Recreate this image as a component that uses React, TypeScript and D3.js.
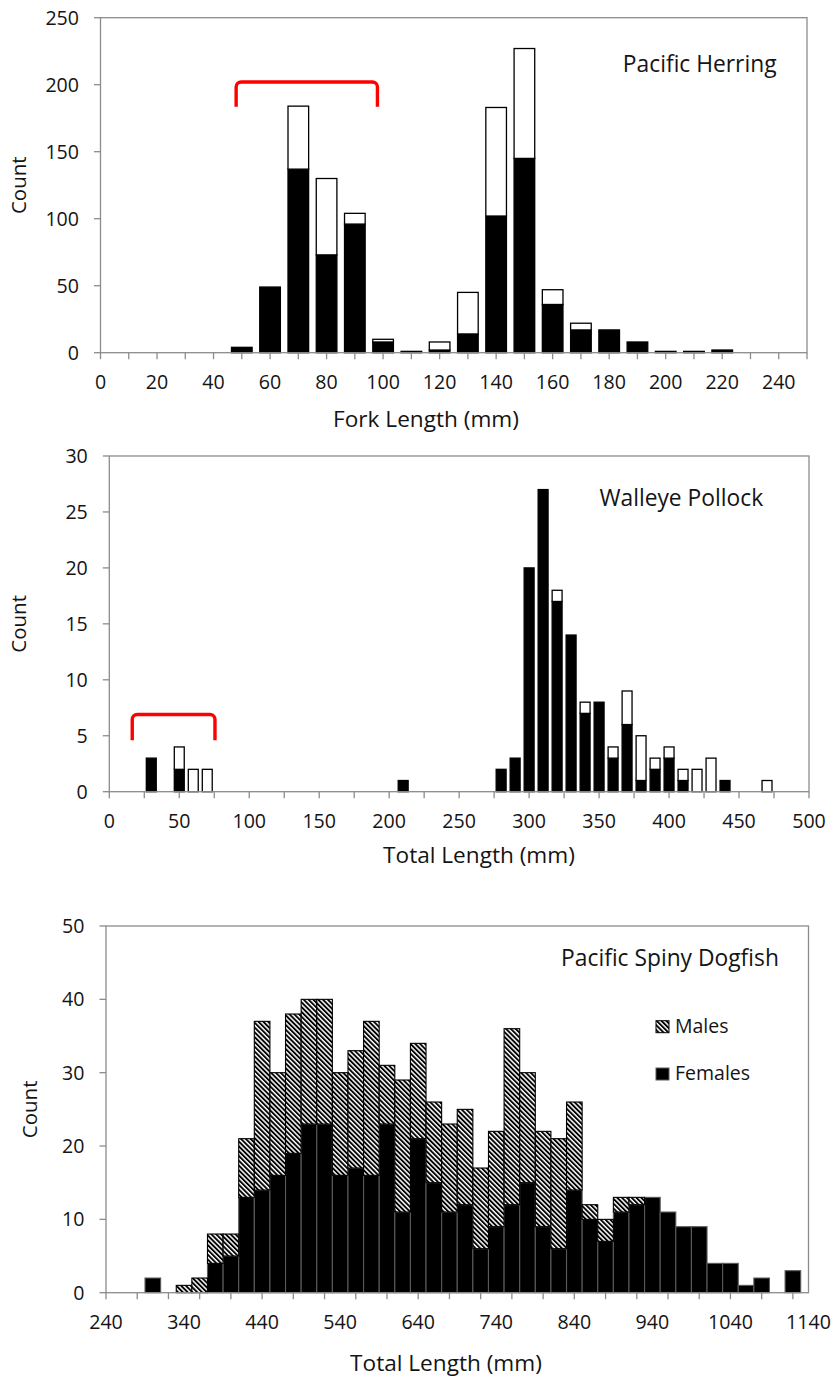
import * as React from 'react'
import * as d3 from 'd3'

// Pacific Herring – fork length bins (mm)
const herringBins = [50, 60, 70, 80, 90, 100, 110, 120, 130, 140, 150, 160, 170, 180, 190, 200, 210, 220]
const herringSolid = [4, 49, 137, 73, 96, 8, 1, 2, 14, 102, 145, 36, 17, 17, 8, 1, 1, 2]
const herringOpen = [0, 0, 47, 57, 8, 2, 0, 6, 31, 81, 82, 11, 5, 0, 0, 0, 0, 0]
const herringXTicks = [0, 10, 20, 30, 40, 50, 60, 70, 80, 90, 100, 110, 120, 130, 140, 150, 160, 170, 180, 190, 200, 210, 220, 230, 240, 250]
const herringXLabels = [0, 20, 40, 60, 80, 100, 120, 140, 160, 180, 200, 220, 240]
const herringYTicks = [0, 50, 100, 150, 200, 250]

// Walleye Pollock – total length bins (mm)
const pollockBins = [30, 50, 60, 70, 210, 280, 290, 300, 310, 320, 330, 340, 350, 360, 370, 380, 390, 400, 410, 420, 430, 440, 470]
const pollockSolid = [3, 2, 0, 0, 1, 2, 3, 20, 27, 17, 14, 7, 8, 3, 6, 1, 2, 3, 1, 0, 0, 1, 0]
const pollockOpen = [0, 2, 2, 2, 0, 0, 0, 0, 0, 1, 0, 1, 0, 1, 3, 4, 1, 1, 1, 2, 3, 0, 1]
const pollockXTicks = [0, 25, 50, 75, 100, 125, 150, 175, 200, 225, 250, 275, 300, 325, 350, 375, 400, 425, 450, 475, 500]
const pollockXLabels = [0, 50, 100, 150, 200, 250, 300, 350, 400, 450, 500]
const pollockYTicks = [0, 5, 10, 15, 20, 25, 30]

// Pacific Spiny Dogfish – total length bins (mm)
const dogfishBins = [300, 320, 340, 360, 380, 400, 420, 440, 460, 480, 500, 520, 540, 560, 580, 600, 620, 640, 660, 680, 700, 720, 740, 760, 780, 800, 820, 840, 860, 880, 900, 920, 940, 960, 980, 1000, 1020, 1040, 1060, 1080, 1100, 1120]
const dogfishFemales = [2, 0, 0, 0, 4, 5, 13, 14, 16, 19, 23, 23, 16, 17, 16, 23, 11, 21, 15, 11, 12, 6, 9, 12, 15, 9, 6, 14, 10, 7, 11, 12, 13, 11, 9, 9, 4, 4, 1, 2, 0, 3]
const dogfishMales = [0, 0, 1, 2, 4, 3, 8, 23, 14, 19, 17, 17, 14, 16, 21, 8, 18, 13, 11, 12, 13, 11, 13, 24, 15, 13, 15, 12, 2, 3, 2, 1, 0, 0, 0, 0, 0, 0, 0, 0, 0, 0]
const dogfishXTicks = [240, 280, 320, 360, 400, 440, 480, 520, 560, 600, 640, 680, 720, 760, 800, 840, 880, 920, 960, 1000, 1040, 1080, 1120]
const dogfishXLabels = [240, 340, 440, 540, 640, 740, 840, 940, 1040, 1140]
const dogfishYTicks = [0, 10, 20, 30, 40, 50]

const legendLabels = ['Males', 'Females']

const FONT = "'Open Sans', sans-serif"
const AXIS = '#8c8c8c'
const INK = '#141414'

type Panel = {
  bins: number[]
  lower: number[]
  upper: number[]
  xDomain: [number, number]
  yMax: number
  xTicks: number[]
  xLabels: number[]
  yTicks: number[]
  box: { left: number; right: number; top: number; bottom: number }
  binWidth: number
  barFrac: number
  sexes: boolean
  title: string
  titleX: number
  titleY: number
  xTitle: string
  xTitleX: number
  xTitleY: number
  countX: number
  bracket?: { x: [number, number]; y: [number, number] }
}

const panels: Panel[] = [
  {
    bins: herringBins, lower: herringSolid, upper: herringOpen,
    xDomain: [0, 250], yMax: 250,
    xTicks: herringXTicks, xLabels: herringXLabels, yTicks: herringYTicks,
    box: { left: 100.5, right: 807, top: 17.7, bottom: 352.7 },
    binWidth: 10, barFrac: 0.73, sexes: false,
    title: 'Pacific Herring', titleX: 699.7, titleY: 71.7,
    xTitle: 'Fork Length (mm)', xTitleX: 426, xTitleY: 427.3,
    countX: 18.5,
    bracket: { x: [48, 98], y: [183.6, 202] },
  },
  {
    bins: pollockBins, lower: pollockSolid, upper: pollockOpen,
    xDomain: [0, 500], yMax: 30,
    xTicks: pollockXTicks, xLabels: pollockXLabels, yTicks: pollockYTicks,
    box: { left: 109.3, right: 809, top: 456, bottom: 791.7 },
    binWidth: 10, barFrac: 0.71, sexes: false,
    title: 'Walleye Pollock', titleX: 681.3, titleY: 506,
    xTitle: 'Total Length (mm)', xTitleX: 479, xTitleY: 862.5,
    countX: 18.5,
    bracket: { x: [16.4, 75.5], y: [4.6, 6.9] },
  },
  {
    bins: dogfishBins, lower: dogfishFemales, upper: dogfishMales,
    xDomain: [240, 1140], yMax: 50,
    xTicks: dogfishXTicks, xLabels: dogfishXLabels, yTicks: dogfishYTicks,
    box: { left: 106, right: 808.5, top: 926, bottom: 1292.7 },
    binWidth: 20, barFrac: 1, sexes: true,
    title: 'Pacific Spiny Dogfish', titleX: 670, titleY: 965.7,
    xTitle: 'Total Length (mm)', xTitleX: 446, xTitleY: 1371,
    countX: 30,
  },
]

function drawPanel(root: d3.Selection<SVGGElement, unknown, null, undefined>, p: Panel) {
  const { left, right, top, bottom } = p.box
  const x = d3.scaleLinear().domain(p.xDomain).range([left, right])
  const y = d3.scaleLinear().domain([0, p.yMax]).range([bottom, top])
  const g = root.append('g')

  // bars (stacked: lower series at the bottom)
  const rows = p.bins.map((b, i) => ({ bin: b, lower: p.lower[i], upper: p.upper[i] }))
  const stacked = d3.stack<{ bin: number; lower: number; upper: number }>().keys(['lower', 'upper'])(rows)
  const half = (p.binWidth * p.barFrac) / 2

  stacked.forEach((s, si) => {
    g.append('g')
      .selectAll('rect')
      .data(s.filter((d) => d[1] - d[0] > 0))
      .join('rect')
      .attr('x', (d) => x(d.data.bin - half))
      .attr('width', (d) => x(d.data.bin + half) - x(d.data.bin - half))
      .attr('y', (d) => y(d[1]))
      .attr('height', (d) => y(d[0]) - y(d[1]))
      .attr('fill', si === 0 ? '#000' : p.sexes ? 'url(#hatch)' : '#fff')
      .attr('stroke', si === 0 && p.sexes ? '#5a5a5a' : '#000')
      .attr('stroke-width', p.sexes ? 1.1 : 1.3)
  })

  // plot frame
  g.append('rect')
    .attr('x', left)
    .attr('y', top)
    .attr('width', right - left)
    .attr('height', bottom - top)
    .attr('fill', 'none')
    .attr('stroke', AXIS)
    .attr('stroke-width', 1.3)

  // y ticks + labels
  g.append('g')
    .selectAll('line')
    .data(p.yTicks)
    .join('line')
    .attr('x1', left - 6.5)
    .attr('x2', left)
    .attr('y1', (d) => y(d))
    .attr('y2', (d) => y(d))
    .attr('stroke', AXIS)
    .attr('stroke-width', 1.3)

  g.append('g')
    .selectAll('text')
    .data(p.yTicks)
    .join('text')
    .attr('x', left - 21.5)
    .attr('y', (d) => y(d))
    .attr('dy', '0.36em')
    .attr('text-anchor', 'end')
    .attr('font-family', FONT)
    .attr('font-size', '19.6px')
    .attr('fill', INK)
    .text((d) => d)

  // x ticks + labels
  g.append('g')
    .selectAll('line')
    .data(p.xTicks)
    .join('line')
    .attr('x1', (d) => x(d))
    .attr('x2', (d) => x(d))
    .attr('y1', bottom)
    .attr('y2', bottom + 6.5)
    .attr('stroke', AXIS)
    .attr('stroke-width', 1.3)

  g.append('g')
    .selectAll('text')
    .data(p.xLabels)
    .join('text')
    .attr('x', (d) => x(d))
    .attr('y', bottom + 36.5)
    .attr('text-anchor', 'middle')
    .attr('font-family', FONT)
    .attr('font-size', '19.6px')
    .attr('fill', INK)
    .text((d) => d)

  // titles
  g.append('text')
    .attr('x', p.xTitleX)
    .attr('y', p.xTitleY)
    .attr('text-anchor', 'middle')
    .attr('font-family', FONT)
    .attr('font-size', '22.6px')
    .attr('fill', INK)
    .text(p.xTitle)

  g.append('text')
    .attr('transform', `translate(${p.countX},${(top + bottom) / 2}) rotate(-90)`)
    .attr('dy', '0.36em')
    .attr('text-anchor', 'middle')
    .attr('font-family', FONT)
    .attr('font-size', '20.5px')
    .attr('fill', INK)
    .text('Count')

  g.append('text')
    .attr('x', p.titleX)
    .attr('y', p.titleY)
    .attr('text-anchor', 'middle')
    .attr('font-family', FONT)
    .attr('font-size', '22.8px')
    .attr('fill', INK)
    .text(p.title)

  // red bracket annotation
  if (p.bracket) {
    const x0 = x(p.bracket.x[0])
    const x1 = x(p.bracket.x[1])
    const yt = y(p.bracket.y[1])
    const yb = y(p.bracket.y[0])
    const r = 5
    const path = d3.path()
    path.moveTo(x0, yb)
    path.lineTo(x0, yt + r)
    path.arcTo(x0, yt, x0 + r, yt, r)
    path.lineTo(x1 - r, yt)
    path.arcTo(x1, yt, x1, yt + r, r)
    path.lineTo(x1, yb)
    g.append('path')
      .attr('d', path.toString())
      .attr('fill', 'none')
      .attr('stroke', '#ff0000')
      .attr('stroke-width', 3.4)
  }

  // legend (sex panel only)
  if (p.sexes) {
    const lg = g.append('g')
    const rowY = [1032.7, 1080]
    legendLabels.forEach((label, i) => {
      lg.append('rect')
        .attr('x', 656)
        .attr('y', rowY[i] - 12)
        .attr('width', 13)
        .attr('height', 12)
        .attr('fill', i === 0 ? 'url(#hatch)' : '#000')
        .attr('stroke', i === 0 ? '#000' : '#5a5a5a')
        .attr('stroke-width', 1)
      lg.append('text')
        .attr('x', 675)
        .attr('y', rowY[i])
        .attr('font-family', FONT)
        .attr('font-size', '19.5px')
        .attr('fill', INK)
        .text(label)
    })
  }
}

export default function App() {
  const svgRef = React.useRef<SVGSVGElement>(null)

  React.useEffect(() => {
    if (!svgRef.current) return
    const svg = d3.select(svgRef.current)
    svg.selectAll('*').remove()

    const defs = svg.append('defs')
    const pat = defs
      .append('pattern')
      .attr('id', 'hatch')
      .attr('patternUnits', 'userSpaceOnUse')
      .attr('width', 3.4)
      .attr('height', 3.4)
      .attr('patternTransform', 'rotate(-45)')
    pat.append('rect').attr('width', 3.4).attr('height', 3.4).attr('fill', '#fff')
    pat.append('rect').attr('width', 1.9).attr('height', 3.4).attr('fill', '#000')

    svg.append('rect').attr('width', 835).attr('height', 1379).attr('fill', '#fff')
    const root = svg.append('g')
    panels.forEach((p) => drawPanel(root, p))
  }, [])

  return (
    <div style={{ position: 'absolute', left: 0, top: 0 }}>
      <svg ref={svgRef} width={835} height={1379} style={{ display: 'block' }} />
    </div>
  )
}
